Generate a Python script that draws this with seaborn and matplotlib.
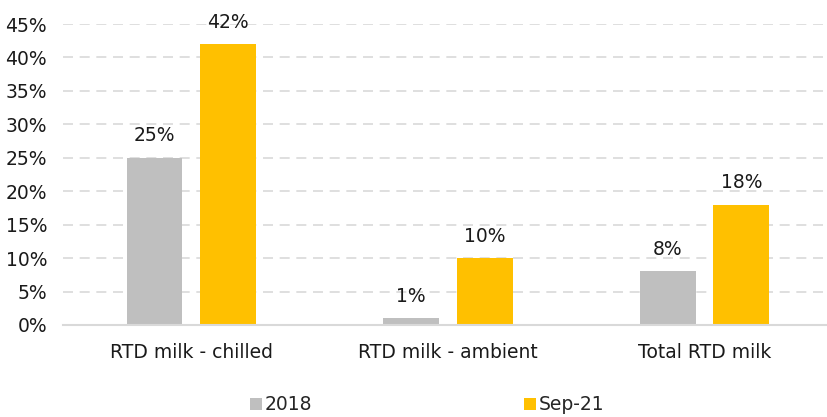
import matplotlib
matplotlib.use("Agg")
import matplotlib.pyplot as plt
import seaborn as sns
import pandas as pd
from matplotlib.patches import Patch

categories = ["RTD milk - chilled", "RTD milk - ambient", "Total RTD milk"]
series_names = ["2018", "Sep-21"]
values_2018 = [25, 1, 8]
values_sep21 = [42, 10, 18]
yticks = [0, 5, 10, 15, 20, 25, 30, 35, 40, 45]
colors = ["#BFBFBF", "#FFC000"]

df = pd.DataFrame({
    "category": categories * 2,
    "series": [series_names[0]] * 3 + [series_names[1]] * 3,
    "value": values_2018 + values_sep21,
})

sns.set_theme(style="white")
plt.rcParams["font.family"] = ["DejaVu Sans"]
FS = 13.5
TC = "#1a1a1a"

fig = plt.figure(figsize=(8.27, 4.17), dpi=100)
ax = fig.add_axes([63 / 827, (417 - 325) / 417, (827 - 63) / 827, (325 - 24) / 417])

sns.barplot(data=df, x="category", y="value", hue="series", palette=colors,
            width=0.573, gap=0.24, ax=ax, legend=False, saturation=1, linewidth=0)

ax.set_ylim(0, 45)
ax.set_xlim(-0.5, 2.477)
ax.set_yticks(yticks)
ax.set_yticklabels([f"{t}%" for t in yticks], fontsize=FS, color=TC)
ax.tick_params(axis="x", labelsize=FS, colors=TC, pad=13, length=0)
ax.tick_params(axis="y", length=0, pad=11.5)
ax.set_xlabel("")
ax.set_ylabel("")
ax.yaxis.grid(True, linestyle=(0, (6, 4)), color="#D9D9D9", linewidth=1.2)
ax.set_axisbelow(True)
for s in ["top", "right", "left"]:
    ax.spines[s].set_visible(False)
ax.spines["bottom"].set_color("#D9D9D9")
ax.spines["bottom"].set_linewidth(1.5)

for cont in ax.containers:
    ax.bar_label(cont, labels=[f"{v:.0f}%" for v in cont.datavalues],
                 padding=9, fontsize=FS, color=TC)

handles = [Patch(facecolor=c, edgecolor="none") for c in colors]
fig.legend(handles, series_names, loc="center", bbox_to_anchor=(427 / 827, 1 - 405 / 417),
           ncol=2, frameon=False, fontsize=FS, handlelength=0.65, handleheight=0.65,
           handletextpad=0.15, columnspacing=11.3)

fig.savefig("out.png", dpi=100)
